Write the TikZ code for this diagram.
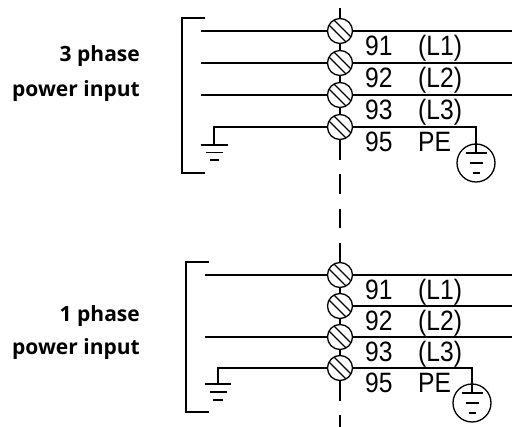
\documentclass[tikz,border=0pt]{standalone}
\usepackage{fontspec}
\newfontfamily\pinfont[FakeStretch=0.88]{Liberation Sans}
\newfontfamily\tagfont{Open Sans}

\begin{document}
\begin{tikzpicture}
[x=1pt,y=-1pt,
  wire/.style={line width=1.3pt},%
  terminal/.style={shape=circle,draw,line width=1.3pt,minimum size=25pt,inner sep=0pt,
    path picture={\draw[line width=1.3pt,shift={(path picture bounding box.center)}]
      (-15,-10) -- (10,15) (-10,-15) -- (15,10);}},%
  earth/.style={shape=circle,draw,line width=1.3pt,minimum size=38pt,inner sep=0pt},%
  pinText/.style={font=\pinfont\fontsize{28}{33}\selectfont,anchor=base west,inner sep=0pt},%
  tagText/.style={font=\tagfont\bfseries\fontsize{21}{25}\selectfont,anchor=base east,inner sep=0pt}]
\useasboundingbox (0,0) rectangle (512,427);
%% terminals and their labels
\foreach \nodename/\y/\num/\phase in {
  t1/31/91/(L1), t2/63/92/(L2), t3/95/93/(L3), t4/127/95/PE,
  b1/275/91/(L1), b2/306/92/(L2), b3/337/93/(L3), b4/368/95/PE}
{
  \node (\nodename) at (340,\y) [terminal] {};
  \node (n\nodename) at ([shift={(25,25)}]\nodename.center) [pinText] {\num};
  \node (p\nodename) at ([shift={(78,25)}]\nodename.center) [pinText] {\phase};
}
%% spine
\coordinate (spineTop) at (340,8);
\coordinate (spineEnd) at (340,427);
\draw[wire] (spineTop) -- (t1.north) (t1.south) -- (t2.north)
  (t2.south) -- (t3.north) (t3.south) -- (t4.north)
  (b1.south) -- (b2.north) (b2.south) -- (b3.north) (b3.south) -- (b4.north);
\draw[wire,dash pattern=on 19.5pt off 14.8pt] (t4.south) -- (b1.north);
\draw[wire,dash pattern=on 19.5pt off 14.8pt] (b4.south) -- (spineEnd);
%% phase wires
\foreach \nodename/\x/\y in {t1/201/31, t2/201/63, t3/201/95, b1/205/275, b3/205/337}
{
  \coordinate (l\nodename) at (\x,\y);
  \draw[wire] (l\nodename) -- (\nodename.west);
}
\foreach \nodename/\y in {t1/31, t2/63, t3/95, b1/275, b2/306, b3/337}
{
  \coordinate (r\nodename) at (512,\y);
  \draw[wire] (\nodename.east) -- (r\nodename);
}
%% earth wires
\coordinate (gt) at (214,145);
\coordinate (gb) at (218,384);
\coordinate (et) at (476,153);
\coordinate (eb) at (472,393);
\node (pet) at (476,163) [earth] {};
\node (peb) at (472,403) [earth] {};
\draw[wire] (t4.west) -| (gt);
\draw[wire] (b4.west) -| (gb);
\draw[wire] (t4.east) -| (et);
\draw[wire] (b4.east) -| (eb);
\foreach \gnd/\a/\b/\c/\s in {gt/13.5/8.5/4.5/7.5, gb/13/8.5/5/8,
  et/10.5/6.5/3.5/10, eb/10.5/6.5/3.5/10}
{
  \draw[wire] ([shift={(-\a,0)}]\gnd) -- ([shift={(\a,0)}]\gnd)
    ([shift={(-\b,\s)}]\gnd) -- ([shift={(\b,\s)}]\gnd)
    ([shift={(-\c,2*\s)}]\gnd) -- ([shift={(\c,2*\s)}]\gnd);
}
%% brackets
\draw[wire] (205,18) -| (182,173) -- (205,173);
\draw[wire] (209,262) -| (186,412) -- (209,412);
%% captions
\node (ph3) at (140,62) [tagText] {3 phase};
\node (in3) at (140,97) [tagText] {power input};
\node (ph1) at (140,322) [tagText] {1 phase};
\node (in1) at (140,355) [tagText] {power input};
\end{tikzpicture}
\end{document}
